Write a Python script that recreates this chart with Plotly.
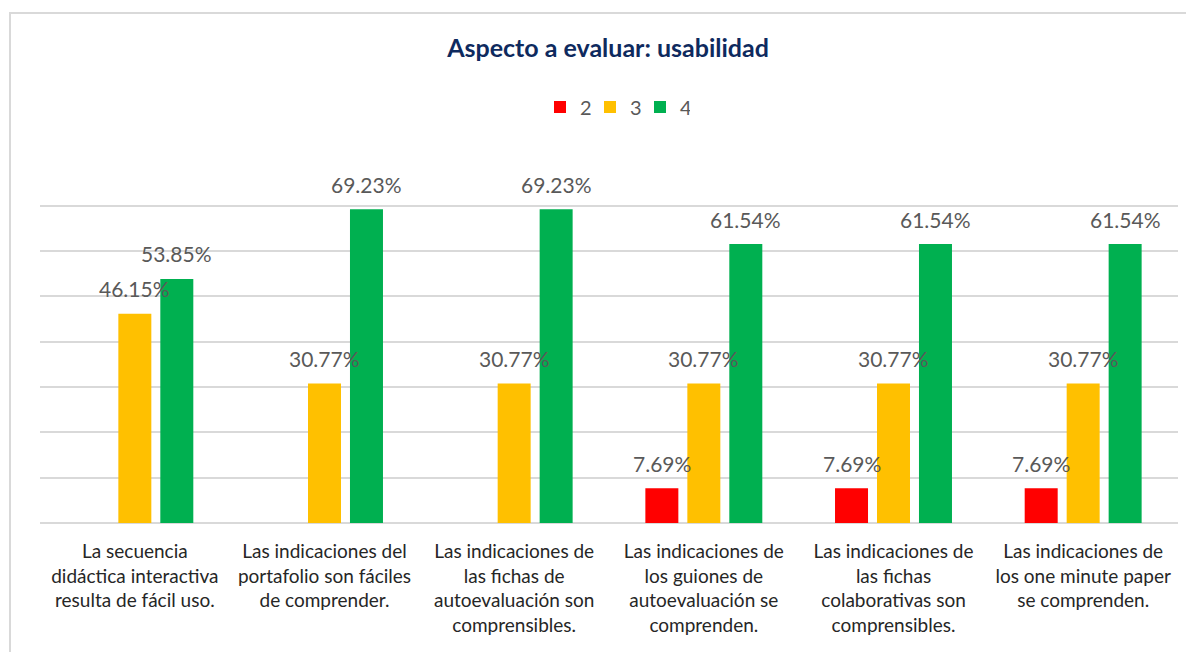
import plotly.graph_objects as go

categories = [
    "La secuencia<br>didáctica interactiva<br>resulta de fácil uso.",
    "Las indicaciones del<br>portafolio son fáciles<br>de comprender.",
    "Las indicaciones de<br>las fichas de<br>autoevaluación son<br>comprensibles.",
    "Las indicaciones de<br>los guiones de<br>autoevaluación se<br>comprenden.",
    "Las indicaciones de<br>las fichas<br>colaborativas son<br>comprensibles.",
    "Las indicaciones de<br>los one minute paper<br>se comprenden.",
]
series_names = ["2", "3", "4"]
values_2 = [None, None, None, 7.69, 7.69, 7.69]
values_3 = [46.15, 30.77, 30.77, 30.77, 30.77, 30.77]
values_4 = [53.85, 69.23, 69.23, 61.54, 61.54, 61.54]
colors = ["#FF0000", "#FFC000", "#00B050"]

all_values = [values_2, values_3, values_4]
BARGAP = 0.336
BARGROUPGAP = 0.214

OFF = 8  # page body margin
W, H = 1194 - OFF, 652 - OFF
# plot area in reference page pixels: x 40..1178, y 160..523
L, R, T, B = 40 - OFF, 1194 - 1178, 160 - OFF, 652 - 523
PW, PH = W - L - R, H - T - B

fig = go.Figure()
x_idx = list(range(len(categories)))
for name, vals, col in zip(series_names, all_values, colors):
    fig.add_trace(go.Bar(name=name, x=x_idx, y=vals, marker_color=col,
                         marker_line_width=0))

annotations = []
n = len(all_values)
slot = (1 - BARGAP) / n
for j, vals in enumerate(all_values):
    off = (j - (n - 1) / 2) * slot
    for i, v in enumerate(vals):
        if v is None:
            continue
        annotations.append(dict(x=i + off, y=v, xref="x", yref="y",
                                text=f"{v:.2f}%", showarrow=False,
                                yshift=25, yanchor="middle",
                                font=dict(family="Lato", size=21, color="#595959")))

fig.update_layout(
    width=W, height=H,
    barmode="group", bargap=BARGAP, bargroupgap=BARGROUPGAP,
    paper_bgcolor="white", plot_bgcolor="white",
    margin=dict(l=L, r=R, t=T, b=B, autoexpand=False),
    title=dict(text="<b>Aspecto a evaluar: usabilidad</b>", x=(608 - OFF) / W,
               xanchor="center", y=1 - (48 - OFF) / H, yanchor="middle",
               font=dict(family="Lato", size=25, color="#0E2A5E")),
    legend=dict(orientation="h", x=(540 - 40) / PW, xanchor="left", y=1 + (160 - 107) / PH,
                yanchor="middle", font=dict(family="Lato", size=20, color="#595959"),
                itemwidth=30, entrywidth=5, traceorder="normal"),
    annotations=annotations,
    shapes=[dict(type="rect", xref="paper", yref="paper",
                 x0=(10 - 40) / PW, x1=(1210 - 40) / PW,
                 y0=-0.5, y1=(523 - 13) / PH,
                 line=dict(color="#D9D9D9", width=2), layer="below")],
)
fig.update_xaxes(tickmode="array", tickvals=x_idx, ticktext=categories, automargin=False,
                 range=[-0.5, len(categories) - 0.5], showline=False, ticks="",
                 ticklabelstandoff=15,
                 tickfont=dict(family="Lato", size=19, color="#262626"))
fig.update_yaxes(range=[0, 80.1], dtick=10, showticklabels=False, showgrid=True, automargin=False,
                 gridcolor="#D9D9D9", gridwidth=1.5, zeroline=True,
                 zerolinecolor="#D9D9D9", zerolinewidth=2)
fig.write_html("out.html")
